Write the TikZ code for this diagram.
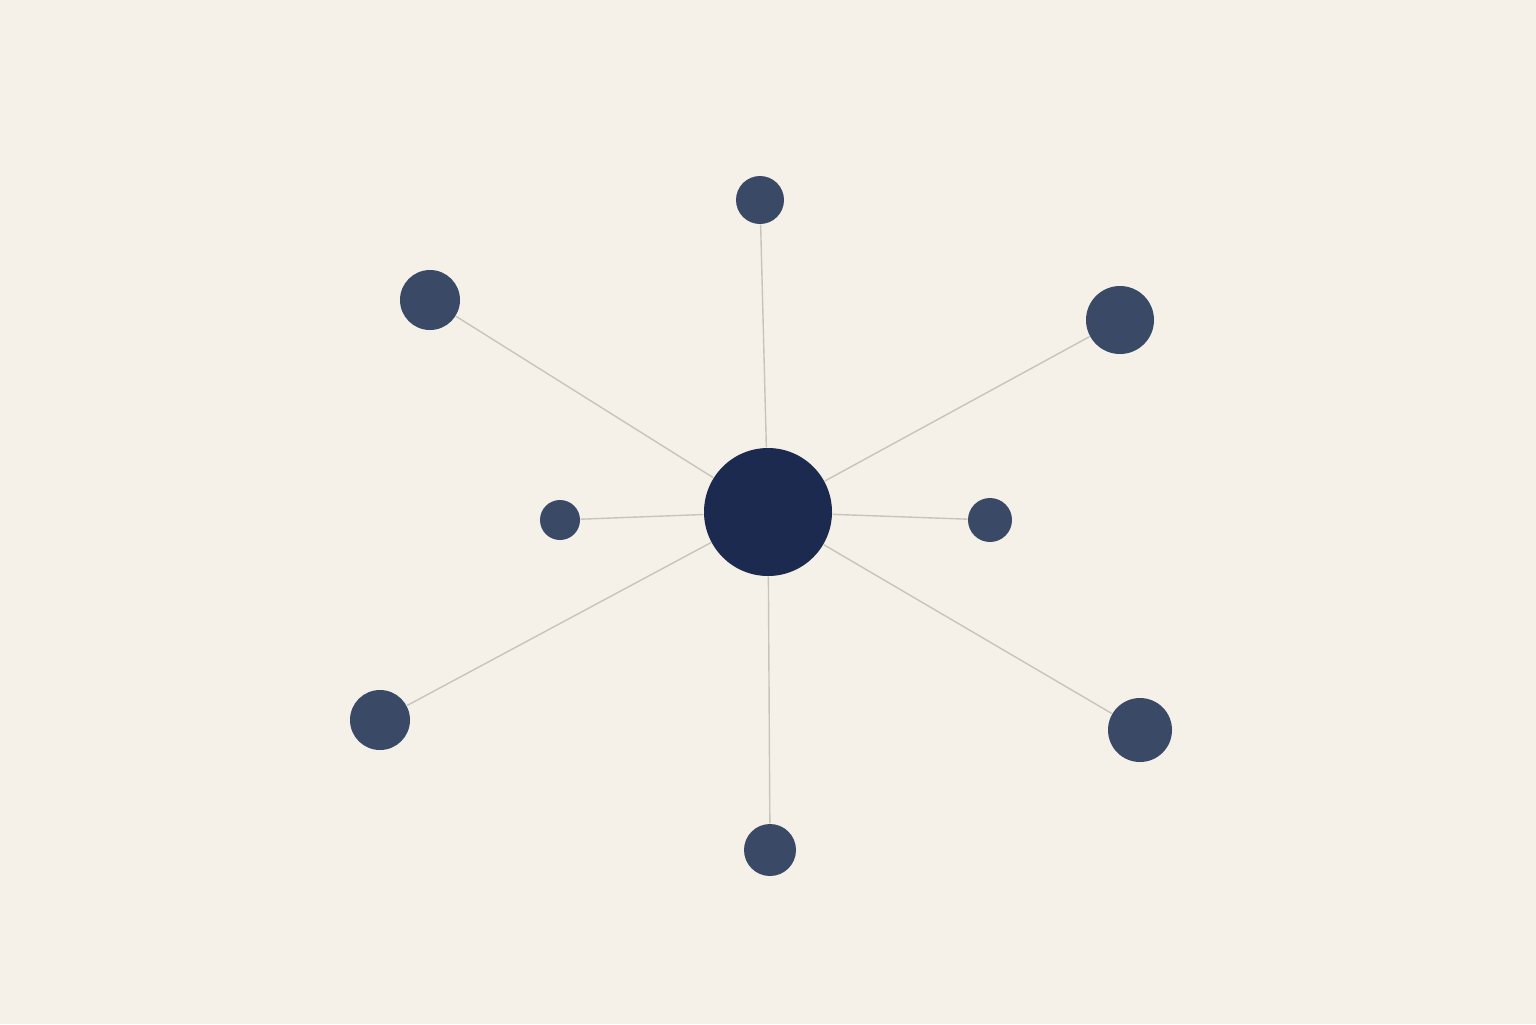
\documentclass[tikz,border=0pt]{standalone}
\usepackage{tikz}

\definecolor{paper}{HTML}{F5F0E8}
\definecolor{hubblue}{HTML}{1B2A4E}
\definecolor{leafblue}{HTML}{3A4A66}
\definecolor{spoke}{HTML}{C9C4BB}

\begin{document}
\begin{tikzpicture}
  \filldraw[fill=paper, draw=none] (0,0) rectangle (15.36cm, -10.24cm);
  \node[circle, draw=none, minimum size=12.8mm, inner sep=0pt, fill=hubblue] (H) at (7.68,-5.12) {};
  \node[circle, draw=none, minimum size=4.8mm, inner sep=0pt, fill=leafblue] (N) at (7.60,-2.00) {};
  \node[circle, draw=none, minimum size=6.0mm, inner sep=0pt, fill=leafblue] (NW) at (4.30,-3.00) {};
  \node[circle, draw=none, minimum size=6.8mm, inner sep=0pt, fill=leafblue] (NE) at (11.20,-3.20) {};
  \node[circle, draw=none, minimum size=4.0mm, inner sep=0pt, fill=leafblue] (W) at (5.60,-5.20) {};
  \node[circle, draw=none, minimum size=4.4mm, inner sep=0pt, fill=leafblue] (E) at (9.90,-5.20) {};
  \node[circle, draw=none, minimum size=6.0mm, inner sep=0pt, fill=leafblue] (SW) at (3.80,-7.20) {};
  \node[circle, draw=none, minimum size=6.4mm, inner sep=0pt, fill=leafblue] (SE) at (11.40,-7.30) {};
  \node[circle, draw=none, minimum size=5.2mm, inner sep=0pt, fill=leafblue] (S) at (7.70,-8.50) {};
  \draw[spoke, line width=0.4pt] (H) -- (N);
  \draw[spoke, line width=0.4pt] (H) -- (NW);
  \draw[spoke, line width=0.4pt] (H) -- (NE);
  \draw[spoke, line width=0.4pt] (H) -- (W);
  \draw[spoke, line width=0.4pt] (H) -- (E);
  \draw[spoke, line width=0.4pt] (H) -- (SW);
  \draw[spoke, line width=0.4pt] (H) -- (SE);
  \draw[spoke, line width=0.4pt] (H) -- (S);
\end{tikzpicture}
\end{document}
